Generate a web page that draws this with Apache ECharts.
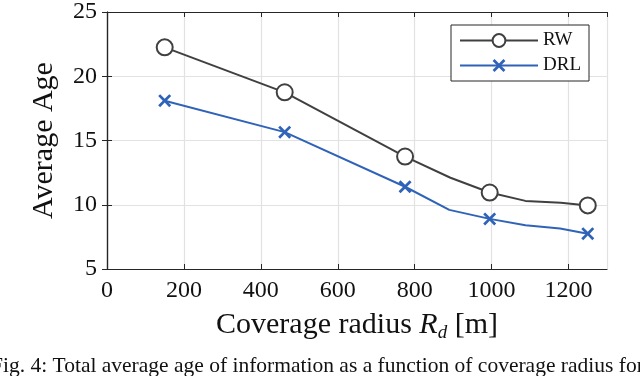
<!DOCTYPE html>
<html>
<head>
<meta charset="utf-8">
<script src="https://cdn.jsdelivr.net/npm/echarts@6/dist/echarts.min.js"></script>
<style>
  html, body { margin: 0; padding: 0; background: #fff; }
  #chart { width: 640px; height: 376px; }
</style>
</head>
<body>
<div id="chart"></div>
<script>
// coverage radius (m) sampled in the simulation
const radiusRW  = [150, 462, 775, 893, 995, 1088, 1180, 1250];
const ageRW     = [22.25, 18.75, 13.75, 12.1, 10.95, 10.3, 10.15, 9.95];
const radiusDRL = [150, 462, 775, 890, 995, 1088, 1178, 1250];
const ageDRL    = [18.1, 15.65, 11.4, 9.6, 8.9, 8.4, 8.15, 7.75];
// which samples carry a marker
const markedIdx = [0, 1, 2, 4, 7];

const xTicks = { min: 0, max: 1300, interval: 200 };
const yTicks = { min: 5, max: 25, interval: 5 };

const serif = '"Liberation Serif", "DejaVu Serif", serif';
const axisCol = '#262626';
// bold "x" marker
const crossPath = 'path://M0,1.5 L1.5,0 L5,3.5 L8.5,0 L10,1.5 L6.5,5 L10,8.5 L8.5,10 L5,6.5 L1.5,10 L0,8.5 L3.5,5 Z';

function toData(xs, ys) {
	return xs.map((x, i) => {
		const item = { value: [x, ys[i]] };
		if (!markedIdx.includes(i)) item.symbol = 'none';
		return item;
	});
}

const chart = echarts.init(document.getElementById('chart'));

const option = {
	backgroundColor: '#fff',
	animation: false,
	grid: { left: 107, right: 33, top: 11, bottom: 107 },
	legend: {
		orient: 'vertical',
		right: 51,
		top: 25,
		padding: [6, 8, 6, 8],
		itemGap: 6,
		itemWidth: 78,
		itemHeight: 16,
		backgroundColor: '#fff',
		borderColor: axisCol,
		borderWidth: 1,
		textStyle: { fontFamily: serif, fontSize: 19, color: '#111' },
		data: ['RW', 'DRL']
	},
	xAxis: [{
		type: 'value',
		min: xTicks.min, max: xTicks.max, interval: xTicks.interval,
		name: '{t|Coverage radius }{i|R}{s|d}{t| [m]}',
		nameLocation: 'middle',
		nameGap: 40,
		nameTextStyle: {
			rich: {
				t: { fontFamily: serif, fontSize: 30, color: '#111' },
				i: { fontFamily: serif, fontSize: 30, fontStyle: 'italic', color: '#111' },
				s: { fontFamily: serif, fontSize: 19, fontStyle: 'italic', color: '#111', padding: [14, 0, 0, 0] }
			}
		},
		axisLine: { lineStyle: { color: axisCol, width: 1.2 } },
		axisTick: { inside: true, length: 5, lineStyle: { color: axisCol } },
		axisLabel: {
			fontFamily: serif, fontSize: 24, color: '#111', margin: 10, showMaxLabel: false,
			formatter: v => String(v)
		},
		splitLine: { lineStyle: { color: '#e2e2e2', width: 1.2 } }
	}, {
		type: 'value', position: 'top',
		min: xTicks.min, max: xTicks.max, interval: xTicks.interval,
		axisLine: { lineStyle: { color: axisCol, width: 1.2 } },
		axisTick: { inside: true, length: 5, lineStyle: { color: axisCol } },
		axisLabel: { show: false },
		splitLine: { show: false }
	}],
	yAxis: [{
		type: 'value',
		min: yTicks.min, max: yTicks.max, interval: yTicks.interval,
		name: 'Average Age',
		nameLocation: 'middle',
		nameGap: 48,
		nameTextStyle: { fontFamily: serif, fontSize: 30, color: '#111' },
		axisLine: { show: true, lineStyle: { color: axisCol, width: 1.2 } },
		axisTick: { show: true, inside: true, length: 5, lineStyle: { color: axisCol } },
		axisLabel: { fontFamily: serif, fontSize: 24, color: '#111', margin: 10 },
		splitLine: { lineStyle: { color: '#e2e2e2', width: 1.2 } }
	}, {
		type: 'value', position: 'right',
		min: yTicks.min, max: yTicks.max, interval: yTicks.interval,
		axisLine: { show: true, lineStyle: { color: axisCol, width: 1.2 } },
		axisTick: { show: true, inside: true, length: 5, lineStyle: { color: axisCol } },
		axisLabel: { show: false },
		splitLine: { show: false }
	}],
	series: [{
		name: 'RW',
		type: 'line',
		data: toData(radiusRW, ageRW),
		symbol: 'emptyCircle',
		symbolSize: 16,
		lineStyle: { color: '#404040', width: 2 },
		itemStyle: { color: '#404040', borderColor: '#404040', borderWidth: 2 }
	}, {
		name: 'DRL',
		type: 'line',
		data: toData(radiusDRL, ageDRL),
		symbol: crossPath,
		symbolSize: 13,
		lineStyle: { color: '#2f63b8', width: 2 },
		itemStyle: { color: '#2f63b8' }
	}],
	graphic: [{
		type: 'text',
		left: -9,
		top: 355,
		style: {
			text: 'Fig. 4: Total average age of information as a function of coverage radius for',
			font: '21.5px "Liberation Serif", serif',
			fill: '#111'
		}
	}]
};

chart.setOption(option);
</script>
</body>
</html>
